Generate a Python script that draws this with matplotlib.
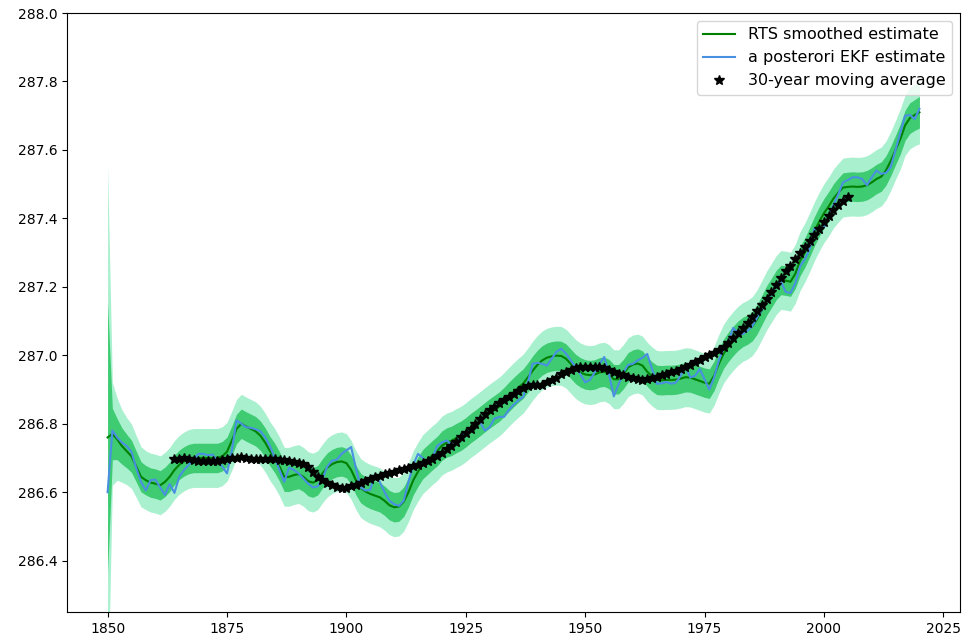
import numpy as np
import matplotlib
matplotlib.use("Agg")
import matplotlib.pyplot as plt

# RTS smoothed state (global mean temperature, K), one value per year 1850-2020
rts = [
    286.760, 286.770, 286.755, 286.735, 286.720, 286.705, 286.675, 286.645, 286.635, 286.628,
    286.625, 286.620, 286.630, 286.645, 286.665, 286.680, 286.690, 286.697, 286.700, 286.700,
    286.700, 286.700, 286.700, 286.700, 286.705, 286.718, 286.750, 286.785, 286.800, 286.792,
    286.785, 286.778, 286.765, 286.745, 286.720, 286.700, 286.675, 286.645, 286.645, 286.650,
    286.653, 286.645, 286.632, 286.628, 286.635, 286.655, 286.672, 286.682, 286.688, 286.690,
    286.685, 286.665, 286.635, 286.612, 286.602, 286.595, 286.590, 286.585, 286.575, 286.562,
    286.556, 286.558, 286.572, 286.600, 286.635, 286.660, 286.682, 286.695, 286.708, 286.720,
    286.736, 286.745, 286.750, 286.758, 286.765, 286.775, 286.787, 286.797, 286.808, 286.819,
    286.830, 286.840, 286.850, 286.863, 286.878, 286.892, 286.905, 286.917, 286.935, 286.955,
    286.972, 286.985, 286.993, 286.997, 286.999, 286.998, 286.990, 286.975, 286.960, 286.950,
    286.944, 286.942, 286.944, 286.950, 286.952, 286.945, 286.930, 286.930, 286.945, 286.965,
    286.973, 286.976, 286.970, 286.952, 286.938, 286.928, 286.927, 286.928, 286.928, 286.929,
    286.932, 286.936, 286.935, 286.930, 286.925, 286.920, 286.917, 286.940, 286.975, 287.005,
    287.025, 287.042, 287.057, 287.068, 287.075, 287.085, 287.105, 287.132, 287.160, 287.182,
    287.205, 287.220, 287.218, 287.215, 287.238, 287.275, 287.300, 287.330, 287.362, 287.390,
    287.415, 287.435, 287.458, 287.475, 287.490, 287.492, 287.493, 287.492, 287.493, 287.497,
    287.505, 287.515, 287.522, 287.540, 287.568, 287.600, 287.632, 287.672, 287.693, 287.702,
    287.710,
]

# a posteriori EKF estimate
ekf = [
    286.600, 286.780, 286.760, 286.745, 286.735, 286.718, 286.670, 286.630, 286.605, 286.635,
    286.637, 286.614, 286.592, 286.624, 286.598, 286.645, 286.665, 286.680, 286.695, 286.712,
    286.712, 286.708, 286.710, 286.690, 286.675, 286.655, 286.720, 286.810, 286.800, 286.790,
    286.788, 286.784, 286.778, 286.760, 286.735, 286.700, 286.665, 286.630, 286.672, 286.665,
    286.655, 286.640, 286.625, 286.614, 286.617, 286.640, 286.675, 286.692, 286.695, 286.712,
    286.722, 286.732, 286.670, 286.614, 286.605, 286.607, 286.653, 286.630, 286.600, 286.575,
    286.565, 286.560, 286.575, 286.630, 286.680, 286.712, 286.700, 286.685, 286.700, 286.735,
    286.745, 286.751, 286.740, 286.745, 286.760, 286.772, 286.780, 286.795, 286.805, 286.780,
    286.790, 286.815, 286.820, 286.820, 286.840, 286.855, 286.868, 286.878, 286.920, 286.975,
    286.978, 286.975, 286.970, 286.990, 287.010, 287.019, 287.005, 286.985, 286.965, 286.945,
    286.921, 286.928, 286.950, 286.975, 286.995, 286.945, 286.880, 286.915, 286.950, 286.972,
    286.975, 286.985, 286.993, 287.004, 286.960, 286.917, 286.918, 286.922, 286.917, 286.920,
    286.940, 286.970, 286.935, 286.940, 286.960, 286.930, 286.900, 286.935, 286.985, 287.020,
    287.040, 287.080, 287.065, 287.062, 287.072, 287.085, 287.110, 287.132, 287.160, 287.180,
    287.205, 287.215, 287.185, 287.182, 287.210, 287.260, 287.280, 287.310, 287.370, 287.365,
    287.375, 287.400, 287.440, 287.470, 287.505, 287.512, 287.520, 287.520, 287.515, 287.497,
    287.520, 287.540, 287.530, 287.533, 287.550, 287.600, 287.650, 287.700, 287.702, 287.690,
    287.720,
]

# smoothed standard deviation of the state
sigma = [
    0.397, 0.075, 0.060, 0.053, 0.049, 0.047, 0.045, 0.044, 0.043, 0.043,
    0.043, 0.043, 0.043, 0.043, 0.043, 0.043, 0.043, 0.043, 0.043, 0.043,
    0.043, 0.043, 0.043, 0.043, 0.043, 0.043, 0.043, 0.043, 0.043, 0.043,
    0.043, 0.043, 0.043, 0.043, 0.043, 0.043, 0.043, 0.043, 0.043, 0.043,
    0.043, 0.043, 0.043, 0.043, 0.043, 0.043, 0.043, 0.043, 0.043, 0.043,
    0.043, 0.043, 0.043, 0.043, 0.043, 0.043, 0.043, 0.043, 0.043, 0.043,
    0.043, 0.043, 0.043, 0.043, 0.043, 0.043, 0.043, 0.043, 0.043, 0.043,
    0.043, 0.043, 0.043, 0.043, 0.043, 0.043, 0.043, 0.043, 0.043, 0.043,
    0.043, 0.043, 0.043, 0.043, 0.043, 0.043, 0.043, 0.043, 0.043, 0.043,
    0.043, 0.043, 0.043, 0.043, 0.043, 0.043, 0.043, 0.043, 0.043, 0.043,
    0.043, 0.043, 0.043, 0.043, 0.043, 0.043, 0.043, 0.043, 0.043, 0.043,
    0.043, 0.043, 0.043, 0.043, 0.043, 0.043, 0.043, 0.043, 0.043, 0.043,
    0.043, 0.043, 0.043, 0.043, 0.043, 0.043, 0.043, 0.043, 0.043, 0.043,
    0.043, 0.043, 0.043, 0.043, 0.043, 0.043, 0.043, 0.043, 0.043, 0.043,
    0.043, 0.043, 0.043, 0.043, 0.043, 0.043, 0.043, 0.043, 0.043, 0.043,
    0.043, 0.043, 0.043, 0.043, 0.043, 0.043, 0.043, 0.043, 0.043, 0.043,
    0.043, 0.043, 0.043, 0.043, 0.043, 0.043, 0.044, 0.044, 0.045, 0.045,
    0.046,
]

# centred 30-year moving average of the observations, 1864-2005
ma = [
    286.697, 286.698, 286.700, 286.698, 286.695, 286.692, 286.690, 286.690, 286.690, 286.692,
    286.695, 286.698, 286.700, 286.700, 286.702, 286.700, 286.698, 286.698, 286.698, 286.697,
    286.697, 286.696, 286.695, 286.694, 286.690, 286.688, 286.686, 286.683, 286.675, 286.660,
    286.645, 286.635, 286.628, 286.620, 286.615, 286.613, 286.613, 286.617, 286.622, 286.626,
    286.632, 286.638, 286.644, 286.648, 286.652, 286.656, 286.660, 286.664, 286.668, 286.672,
    286.676, 286.680, 286.684, 286.690, 286.697, 286.705, 286.715, 286.725, 286.735, 286.747,
    286.760, 286.772, 286.786, 286.800, 286.815, 286.828, 286.840, 286.850, 286.860, 286.868,
    286.877, 286.887, 286.897, 286.905, 286.910, 286.913, 286.912, 286.914, 286.922, 286.928,
    286.935, 286.945, 286.952, 286.958, 286.962, 286.965, 286.966, 286.966, 286.966, 286.966,
    286.963, 286.958, 286.952, 286.946, 286.942, 286.937, 286.933, 286.930, 286.929, 286.930,
    286.933, 286.937, 286.941, 286.945, 286.950, 286.955, 286.960, 286.966, 286.972, 286.979,
    286.987, 286.994, 287.001, 287.008, 287.015, 287.025, 287.037, 287.050, 287.065, 287.080,
    287.095, 287.112, 287.130, 287.148, 287.165, 287.185, 287.205, 287.225, 287.245, 287.262,
    287.280, 287.298, 287.315, 287.335, 287.352, 287.370, 287.390, 287.408, 287.425, 287.440,
    287.452, 287.462,
]

years = np.arange(1850, 1850 + len(rts))
ma_years = np.arange(1864, 1864 + len(ma))

rts = np.array(rts)
ekf = np.array(ekf)
sigma = np.array(sigma)

fig = plt.figure(figsize=(9.71, 6.44), dpi=100)
ax = fig.add_axes([0.069, 0.0497, 0.9197, 0.9301])

# 2-sigma and 1-sigma bands around the smoothed estimate
ax.fill_between(years, rts - 2 * sigma, rts + 2 * sigma, color='#a9f0cf', lw=0)
ax.fill_between(years, rts - sigma, rts + sigma, color='#3ecb72', lw=0)

ax.plot(years, rts, color='green', lw=1.5, label='RTS smoothed estimate')
ax.plot(years, ekf, color='#4a90e2', lw=1.5, label='a posterori EKF estimate')
ax.plot(ma_years, ma, '*', color='black', ms=7, label='30-year moving average')

ax.set_ylim(286.25, 288.0)
ax.legend(loc='upper right', fontsize=11.5)

plt.savefig('out.png', dpi=100)
